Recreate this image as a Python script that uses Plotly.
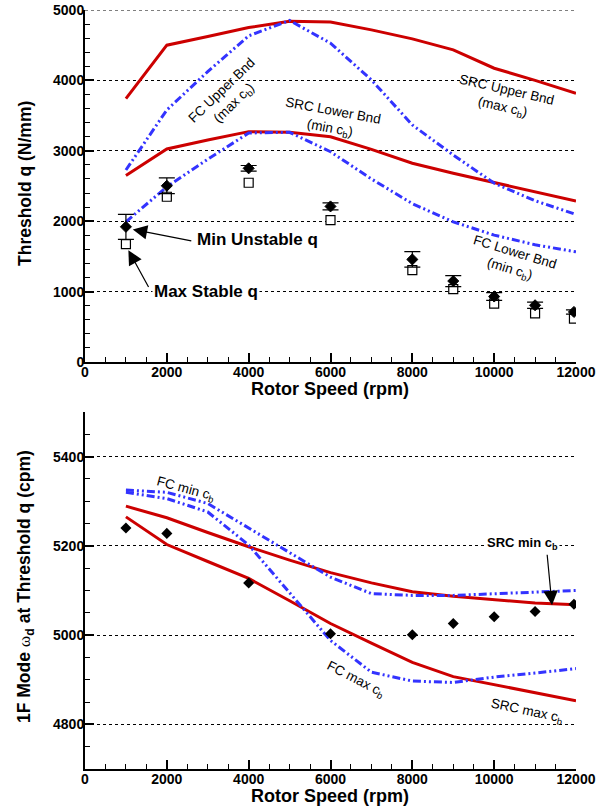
import plotly.graph_objects as go

FONT = "Liberation Sans, Arial, Helvetica, sans-serif"

# ---------------- Top chart data ----------------
speed_lines = [1000, 2000, 3000, 4000, 5000, 6000, 7000, 8000, 9000, 10000, 11000, 12000]
src_upper = [3740, 4500, 4623, 4751, 4840, 4830, 4718, 4590, 4434, 4173, 4000, 3818]
src_lower = [2650, 3026, 3154, 3272, 3262, 3200, 3021, 2824, 2680, 2550, 2420, 2286]
fc_upper = [2727, 3580, 4125, 4633, 4851, 4529, 4007, 3367, 2940, 2540, 2290, 2097]
fc_lower = [1990, 2489, 2880, 3253, 3263, 2987, 2600, 2250, 1991, 1802, 1665, 1565]

speed_pts = [1000, 2000, 4000, 6000, 8000, 9000, 10000, 11000, 11950]
min_unstable_q = [1920, 2503, 2751, 2210, 1457, 1150, 930, 806, 711]
min_unstable_err = [178, 111, 40, 50, 110, 78, 56, 45, 30]
max_stable_q = [1674, 2347, 2546, 2016, 1304, 1034, 830, 690, 617]

# ---------------- Bottom chart data ----------------
src_min_cb = [5289, 5263, 5230, 5198, 5168, 5140, 5117, 5097, 5087, 5080, 5072, 5068]
src_max_cb = [5265, 5203, 5165, 5127, 5077, 5026, 4982, 4939, 4907, 4889, 4870, 4853]
fc_min_cb = [5325, 5320, 5295, 5240, 5185, 5130, 5093, 5089, 5089, 5093, 5097, 5100]
fc_max_cb = [5320, 5306, 5276, 5202, 5095, 4988, 4917, 4897, 4894, 4906, 4915, 4925]
omega_d = [5240, 5228, 5117, 5003, 5001, 5026, 5041, 5053, 5069]

RED = "#cc0000"
BLUE = "#3333ff"
DASH = "8px,3px,2px,3px,2px,3px"

W, H = 608, 811
def px(x):
    return x / W
def py(y):
    return 1 - y / H

fig = go.Figure()

def add_line(x, y, color, dash, xa, ya):
    fig.add_trace(go.Scatter(x=x, y=y, mode="lines", xaxis=xa, yaxis=ya,
                             line=dict(color=color, width=3, dash=dash),
                             showlegend=False, hoverinfo="skip"))

# top
add_line(speed_lines, src_upper, RED, "solid", "x", "y")
add_line(speed_lines, src_lower, RED, "solid", "x", "y")
add_line(speed_lines, fc_upper, BLUE, DASH, "x", "y")
add_line(speed_lines, fc_lower, BLUE, DASH, "x", "y")
fig.add_trace(go.Scatter(x=speed_pts, y=max_stable_q, mode="markers", xaxis="x", yaxis="y",
                         marker=dict(symbol="square", size=9, color="white",
                                     line=dict(color="black", width=1.2)),
                         showlegend=False))
fig.add_trace(go.Scatter(x=speed_pts, y=min_unstable_q, mode="markers", xaxis="x", yaxis="y",
                         marker=dict(symbol="diamond", size=8.5, color="black",
                                     line=dict(color="black", width=1)),
                         error_y=dict(type="data", array=min_unstable_err, symmetric=True,
                                      color="black", thickness=1.2, width=8),
                         showlegend=False))

# bottom
add_line(speed_lines, src_min_cb, RED, "solid", "x2", "y2")
add_line(speed_lines, src_max_cb, RED, "solid", "x2", "y2")
add_line(speed_lines, fc_min_cb, BLUE, DASH, "x2", "y2")
add_line(speed_lines, fc_max_cb, BLUE, DASH, "x2", "y2")
fig.add_trace(go.Scatter(x=speed_pts, y=omega_d, mode="markers", xaxis="x2", yaxis="y2",
                         marker=dict(symbol="diamond", size=8.5, color="black"),
                         showlegend=False))

tickfont = dict(family=FONT, size=14, color="black", weight="bold")
common_x = dict(range=[0, 12000], dtick=2000, tick0=0, ticks="inside", ticklen=9,
                tickwidth=1.5, tickcolor="black", showline=True, linewidth=2,
                linecolor="black", showgrid=False, zeroline=False, tickfont=tickfont,
                tickformat="d", tickprefix="<b>", ticksuffix="</b>",
                minor=dict(dtick=500, ticks="inside", ticklen=5, tickcolor="black",
                           tickwidth=1, showgrid=False),
                domain=[px(85), px(576)], automargin=False, ticklabelstandoff=-4)
common_y = dict(ticks="inside", ticklen=9, tickwidth=1.5, tickcolor="black",
                showline=True, linewidth=2, linecolor="black", showgrid=True,
                gridcolor="black", gridwidth=1, griddash="dot", zeroline=False,
                tickformat="d", tickprefix="<b>", ticksuffix="</b>",
                tickfont=tickfont, automargin=False, ticklabelstandoff=-4)

fig.update_layout(
    width=W, height=H,
    margin=dict(l=0, r=0, t=0, b=0),
    paper_bgcolor="white", plot_bgcolor="white",
    font=dict(family=FONT, color="black"),
    xaxis=dict(anchor="y", **common_x),
    yaxis=dict(anchor="x", range=[0, 5000], dtick=1000, tick0=0,
               domain=[py(362), py(10)],
               minor=dict(dtick=200, ticks="inside", ticklen=5, tickcolor="black",
                          tickwidth=1, showgrid=False),
               **common_y),
    xaxis2=dict(anchor="y2", **common_x),
    yaxis2=dict(anchor="x2", range=[4700, 5500], dtick=200, tick0=0,
                domain=[py(769), py(412)],
                minor=dict(dtick=50, ticks="inside", ticklen=5, tickcolor="black",
                           tickwidth=1, showgrid=False),
                **common_y),
)

# dotted grid line along the top edge of the upper chart (at 5000)
fig.add_shape(type="line", xref="x domain", yref="y", x0=0, x1=1, y0=5000, y1=5000,
              line=dict(color="black", width=1, dash="dot"), layer="below")

ann = []
title_font = dict(family=FONT, size=18, color="black", weight="bold")
ytitle_font = dict(family=FONT, size=17.5, color="black", weight="bold")
ann.append(dict(text="Rotor Speed (rpm)", xref="paper", yref="paper", x=px(330), y=py(389),
                showarrow=False, font=title_font, xanchor="center", yanchor="middle"))
ann.append(dict(text="Rotor Speed (rpm)", xref="paper", yref="paper", x=px(330), y=py(796),
                showarrow=False, font=title_font, xanchor="center", yanchor="middle"))
ann.append(dict(text="Threshold q (N/mm)", xref="paper", yref="paper", x=px(25), y=py(184),
                textangle=-90, showarrow=False, font=ytitle_font,
                xanchor="center", yanchor="middle"))
ann.append(dict(text="1F Mode <span style='font-weight:normal;font-family:serif'>ω</span><sub>d</sub> at Threshold q (cpm)",
                xref="paper", yref="paper", x=px(25), y=py(587),
                textangle=-90, showarrow=False, font=ytitle_font,
                xanchor="center", yanchor="middle"))

lab = dict(family=FONT, size=13.5, color="black")
def label(text, x, y, angle, xr="x", yr="y", font=lab, bg=None):
    d = dict(text=text, x=x, y=y, xref=xr, yref=yr, textangle=angle, showarrow=False,
             font=font, xanchor="center", yanchor="middle")
    if bg:
        d["bgcolor"] = bg
    ann.append(d)

label("FC Upper Bnd<br>(max c<sub>b</sub>)", 3500, 3765, -44)
label("SRC Upper Bnd<br>(max c<sub>b</sub>)", 10262, 3730, 13)
label("SRC Lower Bnd<br>(min c<sub>b</sub>)", 6025, 3438, 10.5)
label("FC Lower Bnd<br>(min c<sub>b</sub>)", 10433, 1432, 17)

bold17 = dict(family=FONT, size=17, color="black", weight="bold")
label("Min Unstable q", 4225, 1745, 0, font=bold17)
label("Max Stable q", 2951, 996, 0, font=bold17, bg="white")

label("FC min c<sub>b</sub>", 2468, 5327, 15, "x2", "y2")
label("FC max c<sub>b</sub>", 6603, 4900, 27, "x2", "y2")
label("SRC max c<sub>b</sub>", 10810, 4828, 12, "x2", "y2")
label("SRC min c<sub>b</sub>", 10687, 5206, 0, "x2", "y2",
      font=dict(family=FONT, size=13, color="black", weight="bold"), bg="white")

def arrow(x, y, ax, ay, xr="x", yr="y"):
    ann.append(dict(text="", x=x, y=y, xref=xr, yref=yr, ax=ax, ay=ay,
                    showarrow=True, arrowhead=2, arrowsize=2.4, arrowwidth=1.2,
                    arrowcolor="black"))

arrow(1168, 1883, 60, 11.7)
arrow(1060, 1589, 21, 38.3)
arrow(11414, 5067, -5, -52, "x2", "y2")

fig.update_layout(annotations=ann)
fig.write_html("out.html", config={"displayModeBar": False},
               post_script="document.body.style.margin='0';document.body.style.padding='0';document.body.style.overflow='hidden';")
